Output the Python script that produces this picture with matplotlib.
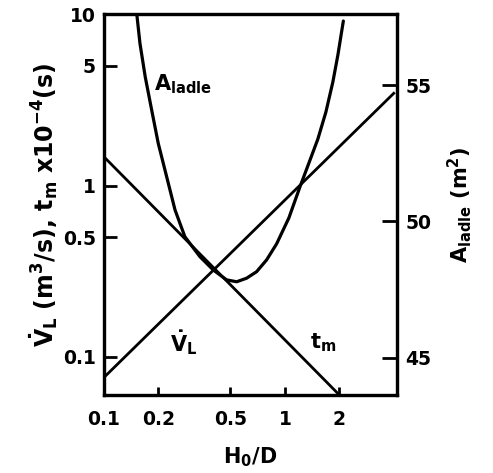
import numpy as np
import matplotlib
matplotlib.use("Agg")
import matplotlib.pyplot as plt

plt.rcParams['font.family'] = ['DejaVu Sans']
plt.rcParams['font.weight'] = 'bold'
plt.rcParams['mathtext.fontset'] = 'dejavusans'
plt.rcParams['mathtext.default'] = 'bf'

# values
hd_vl = [0.1, 4.05]
vl = [0.076, 3.5]

hd_tm = [0.1, 2.0]
tm = [1.47, 0.06]

hd_a = [0.152, 0.158, 0.169, 0.1835, 0.1995, 0.222, 0.247, 0.280, 0.339,
        0.402, 0.476, 0.541, 0.614, 0.698, 0.792, 0.900, 1.052, 1.210,
        1.357, 1.521, 1.685, 1.841, 1.963, 2.065, 2.105]
a_ladle = [57.56, 56.53, 55.30, 54.08, 52.86, 51.64, 50.42, 49.44, 48.71,
           48.22, 47.86, 47.79, 47.92, 48.16, 48.59, 49.18, 50.13, 51.26,
           52.14, 53.02, 54.01, 55.11, 56.10, 57.01, 57.35]

xticks = [0.1, 0.2, 0.5, 1, 2]
xticklabels = ['0.1', '0.2', '0.5', '1', '2']
yticks = [0.1, 0.5, 1, 5, 10]
yticklabels = ['0.1', '0.5', '1', '5', '10']
rticks = [45, 50, 55]

fig = plt.figure(figsize=(4.93, 4.73), dpi=100)
ax = fig.add_axes([0.211, 0.165, 0.594, 0.805])
ax2 = ax.twinx()

ax.plot(hd_vl, vl, color='black', lw=2.0, solid_capstyle='butt')
ax.plot(hd_tm, tm, color='black', lw=2.0, solid_capstyle='butt')
ax2.plot(hd_a, a_ladle, color='black', lw=2.3, solid_joinstyle='round',
         solid_capstyle='round')

ax.set_xscale('log')
ax.set_yscale('log')
ax.set_xlim(0.1, 4.16)
ax.set_ylim(0.060, 10)
ax2.set_ylim(43.64, 57.6)

ax.set_xticks(xticks)
ax.set_xticklabels(xticklabels)
ax.set_yticks(yticks)
ax.set_yticklabels(yticklabels)
ax.minorticks_off()
ax2.set_yticks(rticks)

for s in ax.spines.values():
    s.set_linewidth(2.3)
for s in ax2.spines.values():
    s.set_linewidth(2.3)

ax.tick_params(axis='x', direction='in', length=6, width=2, labelsize=13.5, pad=11)
ax.tick_params(axis='y', direction='in', length=9, width=2, labelsize=13.5, pad=6)
ax2.tick_params(axis='y', direction='in', length=11, width=2, labelsize=13.5, pad=6)

ax.set_xlabel('H$_0$/D', fontsize=15, fontweight='bold', labelpad=12)
ax.set_ylabel(r'$\dot{V}_L$ (m$^3$/s), t$_m$ x10$^{-4}$(s)', fontsize=17,
              fontweight='bold', labelpad=2)
ax2.set_ylabel('A$_{ladle}$ (m$^2$)', fontsize=15, fontweight='bold', labelpad=10)

ax.text(0.19, 3.6, 'A$_{ladle}$', fontsize=15, fontweight='bold')
ax.text(0.232, 0.108, r'$\dot{V}_L$', fontsize=15, fontweight='bold')
ax.text(1.37, 0.112, 't$_m$', fontsize=15, fontweight='bold')

fig.savefig('out.png', dpi=100)
